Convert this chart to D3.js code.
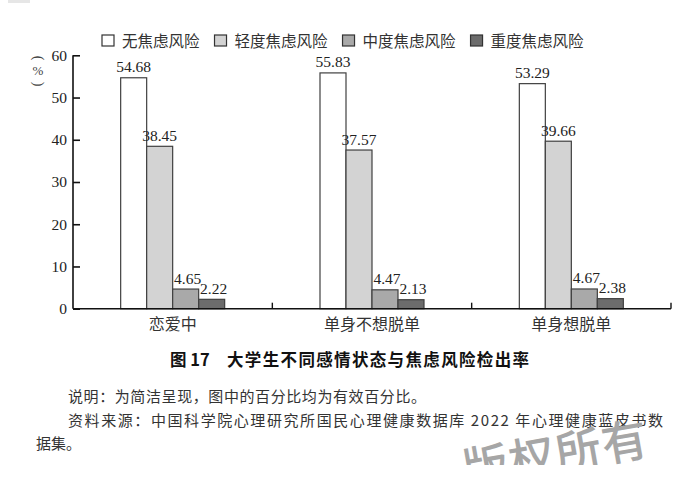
<!DOCTYPE html>
<html><head><meta charset="utf-8">
<script src="https://cdn.jsdelivr.net/npm/d3@7/dist/d3.min.js"></script>
<style>
html,body{margin:0;padding:0;background:#fff;}
svg{display:block;}
</style>
</head><body>
<svg id="c" width="700" height="497"></svg>
<script>
const categories = ["恋爱中", "单身不想脱单", "单身想脱单"];
const seriesNames = ["无焦虑风险", "轻度焦虑风险", "中度焦虑风险", "重度焦虑风险"];
const noneRisk = [54.68, 55.83, 53.29];
const mildRisk = [38.45, 37.57, 39.66];
const moderateRisk = [4.65, 4.47, 4.67];
const severeRisk = [2.22, 2.13, 2.38];
const yTicks = [0, 10, 20, 30, 40, 50, 60];
const seriesValues = [noneRisk, mildRisk, moderateRisk, severeRisk];
const colors = ["#ffffff", "#d3d3d3", "#a9a9a9", "#6c6c6c"];

const svg = d3.select("#c");
const serif = "'Liberation Serif','DejaVu Serif',serif";
const cjk = "'Noto Sans CJK SC','Noto Sans',sans-serif";

const x = d3.scaleBand().domain(categories).range([73, 671]).paddingInner(0).paddingOuter(0);
const groupW = 104;
const xs = d3.scaleBand().domain(seriesNames).range([0, groupW]);
const y = d3.scaleLinear().domain([0, 60]).range([308.7, 55.3]);

// faint mark top-left
svg.append("rect").attr("x", 8).attr("y", 0).attr("width", 22).attr("height", 3).attr("fill", "#e6e6e6");

// bars
const data = [];
categories.forEach((c, i) => {
  seriesNames.forEach((s, j) => data.push({c, s, j, v: seriesValues[j][i]}));
});
const gx = c => x(c) + (x.bandwidth() - groupW) / 2;
svg.append("g").selectAll("rect").data(data).join("rect")
  .attr("x", d => gx(d.c) + xs(d.s))
  .attr("y", d => y(d.v))
  .attr("width", xs.bandwidth())
  .attr("height", d => y(0) - y(d.v))
  .attr("fill", d => colors[d.j])
  .attr("stroke", "#404040")
  .attr("stroke-width", 1.2);

// value labels
svg.append("g").selectAll("text").data(data).join("text")
  .attr("x", d => gx(d.c) + xs(d.s) + xs.bandwidth() / 2 + (d.j >= 2 ? 2 : 0))
  .attr("y", d => y(d.v) - 5.5)
  .attr("text-anchor", "middle")
  .attr("font-family", serif)
  .attr("font-size", 15.5)
  .attr("fill", "#222")
  .text(d => d.v.toFixed(2));

// y axis
const yAxis = svg.append("g").attr("transform", "translate(73,0)")
  .call(d3.axisLeft(y).tickValues(yTicks).tickSize(-7).tickPadding(6).tickFormat(d3.format("d")));
yAxis.select(".domain").attr("stroke", "#111").attr("stroke-width", 1.6).attr("d", `M0,${y(60)}V${y(0)}`);
yAxis.selectAll(".tick line").attr("stroke", "#111").attr("stroke-width", 1.6);
yAxis.selectAll(".tick text").attr("font-family", serif).attr("font-size", 15.5).attr("fill", "#222");

// x axis
svg.append("line").attr("x1", 73).attr("x2", 671).attr("y1", y(0)).attr("y2", y(0))
  .attr("stroke", "#111").attr("stroke-width", 1.6);
svg.append("g").selectAll("line").data(categories).join("line")
  .attr("x1", c => x(c) + x.bandwidth()).attr("x2", c => x(c) + x.bandwidth())
  .attr("y1", y(0)).attr("y2", y(0) - 6)
  .attr("stroke", "#111").attr("stroke-width", 1.4);
svg.append("g").selectAll("text").data(categories).join("text")
  .attr("x", c => x(c) + x.bandwidth() / 2)
  .attr("y", 330)
  .attr("text-anchor", "middle")
  .attr("font-family", cjk)
  .attr("font-size", 16)
  .attr("fill", "#333")
  .text(c => c);

// y unit label (vertical, parentheses turned)
const unit = svg.append("g").attr("fill", "#444").attr("font-family", serif).attr("text-anchor", "middle");
unit.append("text").attr("transform", "translate(38,58) rotate(90)").attr("dy", "0.32em")
  .attr("font-size", 14).text("(");
unit.append("text").attr("x", 38).attr("y", 75).attr("font-size", 13).text("%");
unit.append("text").attr("transform", "translate(38,84) rotate(90)").attr("dy", "0.32em")
  .attr("font-size", 14).text(")");

// legend
const leg = svg.append("g");
let lx = 102;
seriesNames.forEach((s, j) => {
  leg.append("rect").attr("x", lx).attr("y", 35).attr("width", 12).attr("height", 11)
    .attr("fill", colors[j]).attr("stroke", "#333").attr("stroke-width", 1.2);
  const t = leg.append("text").attr("x", lx + 20).attr("y", 46.5)
    .attr("font-family", cjk).attr("font-size", 15.5).attr("fill", "#333").text(s);
  lx += 20 + t.node().getComputedTextLength() + 15;
});

// title
const title = svg.append("g").attr("font-family", cjk).attr("font-weight", "bold").attr("fill", "#111");
title.append("text").attr("x", 170).attr("y", 366).attr("font-size", 16.5).text("图 17");
title.append("text").attr("x", 227).attr("y", 366).attr("font-size", 16.5)
  .attr("textLength", 302).attr("lengthAdjust", "spacing").text("大学生不同感情状态与焦虑风险检出率");

// notes
const notes = svg.append("g").attr("font-family", cjk).attr("font-size", 15).attr("fill", "#333");
notes.append("text").attr("x", 68).attr("y", 402).attr("textLength", 358).attr("lengthAdjust", "spacing")
  .text("说明：为简洁呈现，图中的百分比均为有效百分比。");
notes.append("text").attr("x", 68).attr("y", 425.5).attr("textLength", 595).attr("lengthAdjust", "spacing")
  .text("资料来源：中国科学院心理研究所国民心理健康数据库 2022 年心理健康蓝皮书数");
notes.append("text").attr("x", 36).attr("y", 449).text("据集。");

// watermark (clipped)
svg.append("clipPath").attr("id", "wm").append("rect").attr("x", 0).attr("y", 0).attr("width", 700).attr("height", 465);
svg.append("g").attr("clip-path", "url(#wm)")
  .append("text").attr("transform", "translate(466,487) rotate(-10)")
  .attr("font-family", cjk).attr("font-size", 46).attr("font-weight", 500)
  .attr("fill", "#a6a6a6").attr("letter-spacing", 1).text("版权所有");
</script>
</body></html>
